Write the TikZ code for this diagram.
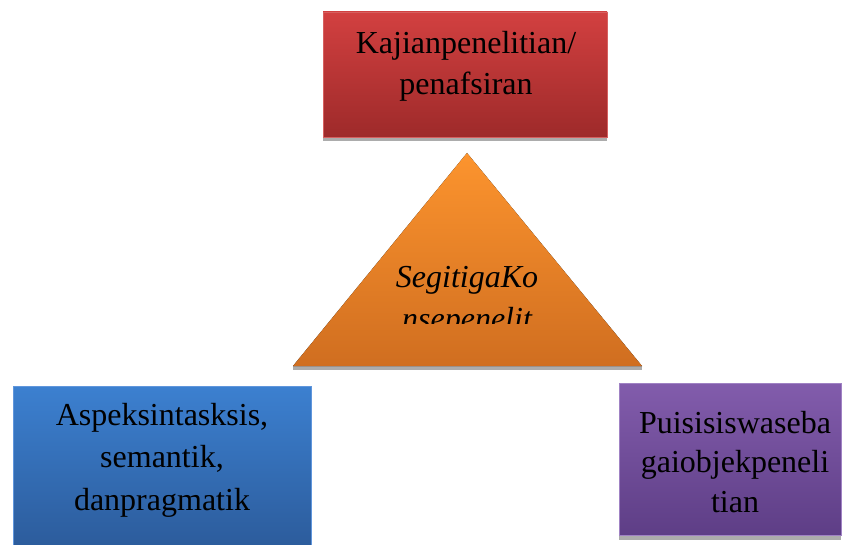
\documentclass[tikz,border=0pt]{standalone}
\usepackage{fontspec}
\setmainfont{Liberation Serif}
\definecolor{redtop}{RGB}{210,64,64}
\definecolor{redbot}{RGB}{158,42,42}
\definecolor{rededge}{RGB}{214,96,96}
\definecolor{bluetop}{RGB}{60,128,208}
\definecolor{bluebot}{RGB}{44,92,156}
\definecolor{blueedge}{RGB}{96,150,220}
\definecolor{purtop}{RGB}{130,92,172}
\definecolor{purbot}{RGB}{94,62,134}
\definecolor{puredge}{RGB}{160,130,196}
\definecolor{ortop}{RGB}{252,148,46}
\definecolor{orbot}{RGB}{208,110,32}
\definecolor{shadowgray}{RGB}{172,172,172}
\tikzset{
  box/.style={draw, line width=0.8pt, inner sep=0pt},
  lbl/.style={inner sep=0pt, align=center, font=\fontsize{32}{41}\selectfont, text=black},
  shadowstrip/.style={fill=shadowgray, draw=none},
}
\begin{document}
\begin{tikzpicture}[x=1pt,y=-1pt]
\useasboundingbox (0,0) rectangle (842,545);
% shadow strips
\fill[shadowstrip] (323,137) rectangle (607,141);
\fill[shadowstrip] (293,366) rectangle (642,370);
\fill[shadowstrip] (619,535) rectangle (841,540);
% red box
\node[box, draw=rededge, top color=redtop, bottom color=redbot,
  minimum width=284pt, minimum height=125pt] (kaj) at (465,74.5) {};
\node[lbl, anchor=north] (kajt) at (466,31) {Kajianpenelitian/\\penafsiran};
% triangle
\coordinate (apex) at (467,153);
\coordinate (bl) at (293,366);
\coordinate (br) at (642,366);
\fill[top color=ortop, bottom color=orbot] (apex) -- (br) -- (bl) -- cycle;
\begin{scope}
  \clip (280,150) rectangle (660,323);
  \node[lbl, anchor=north, font=\itshape\fontsize{32}{42}\selectfont] (segt) at (467,266) {SegitigaKo\\nsepenelit};
\end{scope}
% blue box
\node[box, draw=blueedge, top color=bluetop, bottom color=bluebot,
  minimum width=298pt, minimum height=160pt] (asp) at (162,466) {};
\node[lbl, anchor=north, font=\fontsize{32}{42.5}\selectfont] (aspt) at (162,403) {Aspeksintasksis,\\semantik,\\danpragmatik};
% purple box
\node[box, draw=puredge, top color=purtop, bottom color=purbot,
  minimum width=222pt, minimum height=152pt] (pui) at (730,459) {};
\node[lbl, anchor=north, font=\fontsize{32}{39.5}\selectfont] (puit) at (735,411) {Puisisiswaseba\\gaiobjekpeneli\\tian};
\end{tikzpicture}
\end{document}
